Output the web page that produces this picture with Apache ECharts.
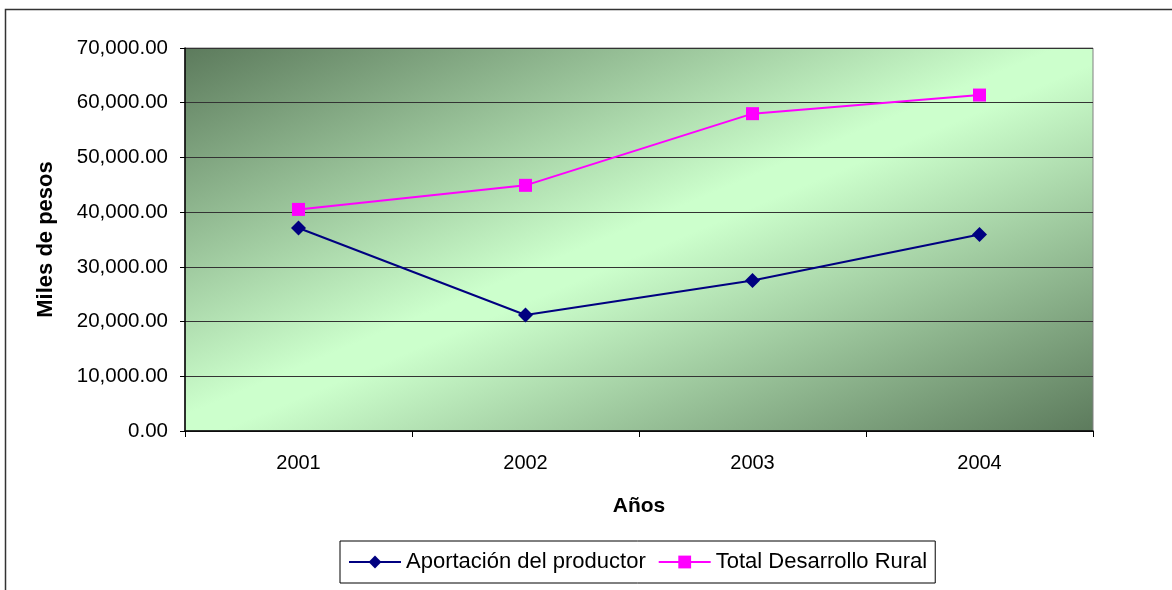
<!DOCTYPE html>
<html>
<head>
<meta charset="utf-8">
<script src="https://cdn.jsdelivr.net/npm/echarts@6/dist/echarts.min.js"></script>
<style>
  html, body { margin: 0; padding: 0; background: #fff; }
  #chart { width: 1172px; height: 590px; }
</style>
</head>
<body>
<div id="chart"></div>
<script>
// datos
var years = ["2001", "2002", "2003", "2004"];
var aportacion = [37100, 21200, 27500, 35900];
var totalRural = [40500, 44900, 58000, 61400];
var yTicks = [0, 10000, 20000, 30000, 40000, 50000, 60000, 70000];

var FONT = "Liberation Sans, Arial, sans-serif";
var gridBox = { left: 185, top: 48, right: 79, bottom: 159 };

// degradado diagonal tipo Excel: banda clara en la antidiagonal
var w = 1172 - gridBox.left - gridBox.right;
var h = 590 - gridBox.top - gridBox.bottom;
var L2 = w * w + h * h;
var ox = (h * h) / L2, oy = (w * w) / L2;
var dark = "#5c7a5c", light = "#ccffcc";
var plotBg = new echarts.graphic.LinearGradient(0.5 - ox, 0.5 - oy, 0.5 + ox, 0.5 + oy, [
  { offset: 0, color: dark },
  { offset: 0.48, color: light },
  { offset: 0.52, color: light },
  { offset: 1, color: dark }
]);

function fmt(v) {
  return v.toLocaleString("en-US", { minimumFractionDigits: 2, maximumFractionDigits: 2 });
}

var chart = echarts.init(document.getElementById("chart"));
chart.setOption({
  animation: false,
  textStyle: { fontFamily: FONT },
  graphic: [{
    type: "rect",
    z: -10,
    shape: { x: 5.5, y: 9.5, width: 1400, height: 800 },
    style: { fill: "none", stroke: "#333", lineWidth: 1.5 }
  }],
  grid: {
    left: gridBox.left, top: gridBox.top, right: gridBox.right, bottom: gridBox.bottom,
    show: true,
    backgroundColor: plotBg,
    borderColor: "#808080",
    borderWidth: 1
  },
  legend: {
    data: ["Aportación del productor", "Total Desarrollo Rural"],
    left: 340,
    top: 541,
    padding: [10, 8, 10, 8],
    itemWidth: 52,
    itemHeight: 16,
    itemGap: 12,
    borderColor: "#000",
    borderWidth: 1,
    textStyle: { fontFamily: FONT, fontSize: 22, color: "#000" }
  },
  xAxis: {
    type: "category",
    data: years,
    boundaryGap: true,
    name: "Años",
    nameLocation: "middle",
    nameGap: 65,
    nameTextStyle: { fontFamily: FONT, fontSize: 21, fontWeight: "bold", color: "#000" },
    axisLine: { lineStyle: { color: "#000", width: 1.5 } },
    axisTick: { show: true, length: 6, lineStyle: { color: "#000" } },
    axisLabel: { margin: 22, fontFamily: FONT, fontSize: 20, color: "#000" },
    splitLine: { show: false }
  },
  yAxis: {
    type: "value",
    min: 0,
    max: yTicks[yTicks.length - 1],
    interval: yTicks[1] - yTicks[0],
    name: "Miles de pesos",
    nameLocation: "middle",
    nameGap: 128,
    nameTextStyle: { fontFamily: FONT, fontSize: 22, fontWeight: "bold", color: "#000" },
    axisLine: { show: true, lineStyle: { color: "#000", width: 1.5 } },
    axisTick: { show: true, length: 5, lineStyle: { color: "#000" } },
    axisLabel: { margin: 17, fontFamily: FONT, fontSize: 20.5, color: "#000", formatter: fmt },
    splitLine: { show: true, lineStyle: { color: "#333", width: 1 } }
  },
  series: [
    {
      name: "Aportación del productor",
      type: "line",
      data: aportacion,
      symbol: "diamond",
      symbolSize: [15, 15],
      itemStyle: { color: "#000080" },
      lineStyle: { color: "#000080", width: 2 }
    },
    {
      name: "Total Desarrollo Rural",
      type: "line",
      data: totalRural,
      symbol: "rect",
      symbolSize: 13,
      itemStyle: { color: "#ff00ff" },
      lineStyle: { color: "#ff00ff", width: 2 }
    }
  ]
});
</script>
</body>
</html>
